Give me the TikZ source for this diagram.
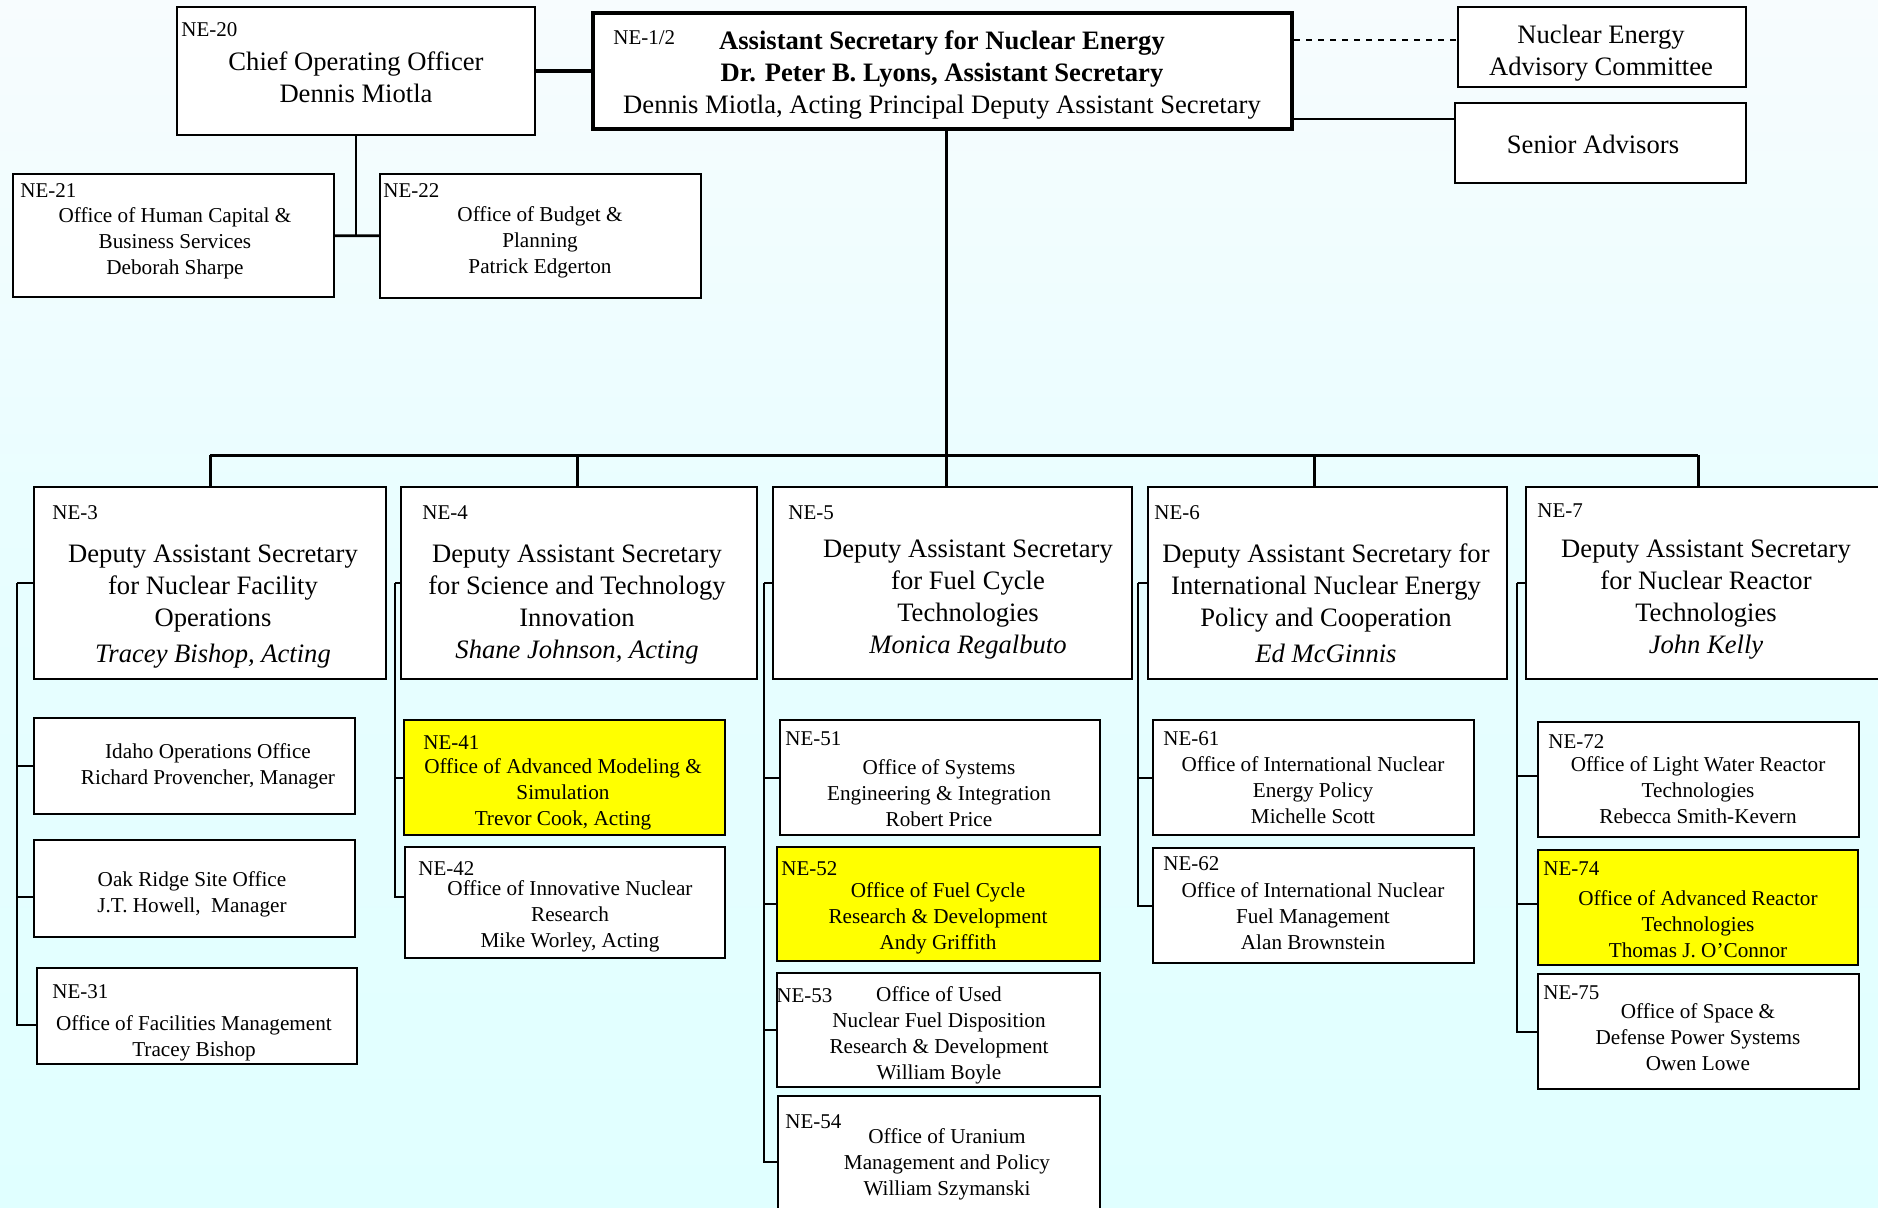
\documentclass[tikz,border=0pt]{standalone}
\usepackage{fontspec}
\setmainfont{Liberation Serif}
\usepackage{tikz}
\usetikzlibrary{fit}

\definecolor{bgtop}{RGB}{247,252,254}
\definecolor{bgmid}{RGB}{231,254,255}
\definecolor{bgbot}{RGB}{224,255,255}
\definecolor{hilite}{RGB}{255,255,0}

\tikzstyle{office} = [rectangle, draw, line width=0.8pt, fill=white, inner sep=0pt]
\tikzstyle{hioffice} = [office, fill=hilite]
\tikzstyle{headoffice} = [office, line width=2pt]
\tikzstyle{bigtext} = [font=\fontsize{13.3}{16}\selectfont, align=center, inner sep=0pt]
\tikzstyle{smalltext} = [font=\fontsize{10.6}{13}\selectfont, align=center, inner sep=0pt]
\tikzstyle{nelabel} = [font=\fontsize{10.5}{12}\selectfont, anchor=west, inner sep=0pt]
\tikzstyle{link} = [draw, line width=1pt]
\tikzstyle{buslink} = [draw, line width=1.5pt]

\begin{document}
\begin{tikzpicture}[x=0.5pt, y=-0.5pt]

  \useasboundingbox (0,0) rectangle (1878,1208);
  \clip (0,0) rectangle (1878,1208);
  \shade [top color=bgtop, bottom color=bgbot, middle color=bgmid] (0,0) rectangle (1878,1208);

  \node [office, fit={(177,7) (535,135)}] (ne20) {};
  \node [headoffice, fit={(593,13) (1292,129)}] (ne12) {};
  \node [office, fit={(1458,7) (1746,87)}] (nac) {};
  \node [office, fit={(1455,103) (1746,183)}] (sa) {};
  \node [office, fit={(13,174) (334,297)}] (ne21) {};
  \node [office, fit={(380,174) (701,298)}] (ne22) {};

  \node [office, fit={(34,487) (386,679)}] (ne3) {};
  \node [office, fit={(401,487) (757,679)}] (ne4) {};
  \node [office, fit={(773,487) (1132,679)}] (ne5) {};
  \node [office, fit={(1148,487) (1507,679)}] (ne6) {};
  \node [office, fit={(1526,487) (1900,679)}] (ne7) {};

  \node [office, fit={(34,718) (355,814)}] (idaho) {};
  \node [office, fit={(34,840) (355,937)}] (oak) {};
  \node [office, fit={(37,968) (357,1064)}] (ne31) {};
  \node [hioffice, fit={(404,720) (725,835)}] (ne41) {};
  \node [office, fit={(405,847) (725,958)}] (ne42) {};
  \node [office, fit={(780,720) (1100,835)}] (ne51) {};
  \node [hioffice, fit={(777,847) (1100,961)}] (ne52) {};
  \node [office, fit={(777,973) (1100,1087)}] (ne53) {};
  \node [office, fit={(778,1096) (1100,1228)}] (ne54) {};
  \node [office, fit={(1153,720) (1474,835)}] (ne61) {};
  \node [office, fit={(1153,848) (1474,963)}] (ne62) {};
  \node [office, fit={(1538,722) (1859,837)}] (ne72) {};
  \node [hioffice, fit={(1538,850) (1858,965)}] (ne74) {};
  \node [office, fit={(1538,974) (1859,1089)}] (ne75) {};

  \node [nelabel] (ne20tag) at (181,30) {NE-20};
  \node [bigtext] (ne20txt) at (356,77) {Chief Operating Officer\\Dennis Miotla};
  \node [nelabel] (ne12tag) at (613,38) {NE-1/2};
  \node [bigtext] (ne12txt) at (942,75) {\textbf{Assistant Secretary for Nuclear Energy}\\
    \textbf{Dr. Peter B. Lyons, Assistant Secretary}\\
    Dennis Miotla, Acting Principal Deputy Assistant Secretary};
  \node [bigtext] (nactxt) at (1601,53) {Nuclear Energy\\Advisory Committee};
  \node [bigtext] (satxt) at (1593,144) {Senior Advisors};
  \node [nelabel] (ne21tag) at (20,191) {NE-21};
  \node [smalltext] (ne21txt) at (175,243) {Office of Human Capital \&\\Business Services\\Deborah Sharpe};
  \node [nelabel] (ne22tag) at (383,191) {NE-22};
  \node [smalltext] (ne22txt) at (540,242) {Office of Budget \&\\Planning\\Patrick Edgerton};

  \node [nelabel] (ne3tag) at (52,513) {NE-3};
  \node [bigtext] (ne3txt) at (213,607) {Deputy Assistant Secretary\\for Nuclear Facility\\Operations\\[2pt]\textit{Tracey Bishop, Acting}};
  \node [nelabel] (ne4tag) at (422,513) {NE-4};
  \node [bigtext] (ne4txt) at (577,605) {Deputy Assistant Secretary\\for Science and Technology\\Innovation\\\textit{Shane Johnson, Acting}};
  \node [nelabel] (ne5tag) at (788,513) {NE-5};
  \node [bigtext] (ne5txt) at (968,600) {Deputy Assistant Secretary\\for Fuel Cycle\\Technologies\\\textit{Monica Regalbuto}};
  \node [nelabel] (ne6tag) at (1154,513) {NE-6};
  \node [bigtext] (ne6txt) at (1326,603) {Deputy Assistant Secretary for\\International Nuclear Energy\\Policy and Cooperation\\[2pt]\textit{Ed McGinnis}};
  \node [nelabel] (ne7tag) at (1537,511) {NE-7};
  \node [bigtext] (ne7txt) at (1706,600) {Deputy Assistant Secretary\\for Nuclear Reactor\\Technologies\\\textit{John Kelly}};

  \node [smalltext] (idahotxt) at (208,766) {Idaho Operations Office\\Richard Provencher, Manager};
  \node [smalltext] (oaktxt) at (192,894) {Oak Ridge Site Office\\J.T. Howell,~ Manager};
  \node [nelabel] (ne31tag) at (52,992) {NE-31};
  \node [smalltext] (ne31txt) at (194,1038) {Office of Facilities Management\\Tracey Bishop};
  \node [nelabel] (ne41tag) at (423,743) {NE-41};
  \node [smalltext] (ne41txt) at (563,794) {Office of Advanced Modeling \&\\Simulation\\Trevor Cook, Acting};
  \node [nelabel] (ne42tag) at (418,869) {NE-42};
  \node [smalltext] (ne42txt) at (570,916) {Office of Innovative Nuclear\\Research\\Mike Worley, Acting};
  \node [nelabel] (ne51tag) at (785,739) {NE-51};
  \node [smalltext] (ne51txt) at (939,793) {Office of Systems\\Engineering \& Integration\\Robert Price};
  \node [nelabel] (ne52tag) at (781,869) {NE-52};
  \node [smalltext] (ne52txt) at (938,918) {Office of Fuel Cycle\\Research \& Development\\Andy Griffith};
  \node [nelabel] (ne53tag) at (776,996) {NE-53};
  \node [smalltext] (ne53txt) at (939,1035) {Office of Used\\Nuclear Fuel Disposition\\Research \& Development\\William Boyle};
  \node [nelabel] (ne54tag) at (785,1122) {NE-54};
  \node [smalltext] (ne54txt) at (947,1164) {Office of Uranium\\Management and Policy\\William Szymanski};
  \node [nelabel] (ne61tag) at (1163,739) {NE-61};
  \node [smalltext] (ne61txt) at (1313,790) {Office of International Nuclear\\Energy Policy\\Michelle Scott};
  \node [nelabel] (ne62tag) at (1163,864) {NE-62};
  \node [smalltext] (ne62txt) at (1313,916) {Office of International Nuclear\\Fuel Management\\Alan Brownstein};
  \node [nelabel] (ne72tag) at (1548,742) {NE-72};
  \node [smalltext] (ne72txt) at (1698,790) {Office of Light Water Reactor\\Technologies\\Rebecca Smith-Kevern};
  \node [nelabel] (ne74tag) at (1543,869) {NE-74};
  \node [smalltext] (ne74txt) at (1698,924) {Office of Advanced Reactor\\Technologies\\Thomas J. O’Connor};
  \node [nelabel] (ne75tag) at (1543,993) {NE-75};
  \node [smalltext] (ne75txt) at (1698,1037) {Office of Space \&\\Defense Power Systems\\Owen Lowe};

  \coordinate (nacjoin) at ([yshift=3.5pt]nac.west);
  \coordinate (sajoin) at ([yshift=12pt]sa.west);
  \coordinate (b3) at (210,455);
  \coordinate (b4) at (577,455);
  \coordinate (b5) at (946,455);
  \coordinate (b6) at (1314,455);
  \coordinate (b7) at (1698,455);
  \coordinate (s3) at (17,583);
  \coordinate (s4) at (395,583);
  \coordinate (s5) at (764,583);
  \coordinate (s6) at (1138,583);
  \coordinate (s7) at (1517,583);

  \path [link, line width=1.6pt] (ne20) -- (ne12);
  \path [link, dashed] (nacjoin -| ne12.east) -- (nacjoin);
  \path [link, line width=1.3pt] (sajoin -| ne12.east) -- (sajoin);
  \path [link] (ne20) -- (ne20 |- ne21);
  \path [link, line width=1.3pt] (ne21) -- (ne22);

  \path [buslink] (ne12.south -| b5) -- (b5);
  \path [buslink] (b3) -- (b7);
  \path [buslink] (b3) -- (b3 |- ne3.north);
  \path [buslink] (b4) -- (b4 |- ne4.north);
  \path [buslink] (b5) -- (b5 |- ne5.north);
  \path [buslink] (b6) -- (b6 |- ne6.north);
  \path [buslink] (b7) -- (b7 |- ne7.north);

  \path [link] (ne3.west) -- (s3);
  \path [link] (s3) |- (idaho.west);
  \path [link] (s3) |- ([yshift=-4pt]oak.west);
  \path [link] (s3) |- ([yshift=-4.5pt]ne31.west);

  \path [link] (ne4.west) -- (s4);
  \path [link] (s4) |- (ne41.west);
  \path [link] (s4) |- ([yshift=3pt]ne42.west);

  \path [link] (ne5.west) -- (s5);
  \path [link] (s5) |- (ne51.west);
  \path [link] (s5) |- (ne52.west);
  \path [link] (s5) |- (ne53.west);
  \path [link] (s5) |- (ne54.west);

  \path [link] (ne6.west) -- (s6);
  \path [link] (s6) |- (ne61.west);
  \path [link] (s6) |- (ne62.west);

  \path [link] (ne7.west) -- (s7);
  \path [link] (s7) |- ([yshift=2pt]ne72.west);
  \path [link] (s7) |- ([yshift=2pt]ne74.west);
  \path [link] (s7) |- (ne75.west);

\end{tikzpicture}
\end{document}
